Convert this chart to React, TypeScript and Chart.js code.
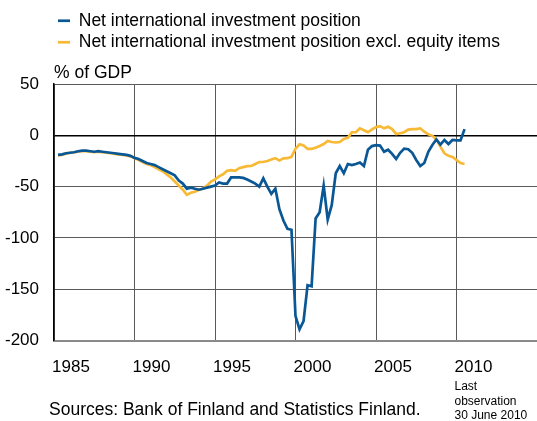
import React, { useEffect, useRef } from "react";
import { Chart, registerables } from "chart.js";

Chart.register(...registerables);

// Quarterly observations, first quarter of 1985 to second quarter of 2010
const START_YEAR = 1985;
const SERIES_NAMES = [
  "Net international investment position",
  "Net international investment position excl. equity items",
];
const NIIP: number[] = [
  -19, -18.5, -17.5, -17, -16.5, -15.5, -15, -15, -15.5, -16, -15.5, -16, -16.5, -17, -17.5, -18, -18.5, -19, -20, -22,
  -23, -25, -27, -28, -29, -31, -33, -35, -37, -39, -44, -47, -52, -51, -52, -53, -52, -51, -50, -49,
  -46, -47, -47, -41, -41, -41, -41.5, -43, -45, -47, -50, -42, -50, -57, -52, -72, -83, -91, -92, -176,
  -189, -181, -146, -147, -81, -75, -49, -82, -68, -37, -30, -37, -28, -29, -28, -26.5, -30, -14, -10.5, -9.5,
  -10, -16, -14, -18, -23, -17, -13, -13.5, -17, -24, -30, -27, -16, -9.5, -4, -9, -4.5, -8.5, -4.5, -5,
  -5, 6,
];
const NIIP_EXCL_EQUITY: number[] = [
  -19.5, -19, -18, -17, -16.5, -16, -15.5, -15.5, -16, -16.5, -16, -16.5, -17, -17.5, -18, -18.5, -19, -19.5, -20.5, -22,
  -24, -26, -28, -29, -31, -33, -35, -38, -41, -45, -49, -53, -58, -56, -55, -53, -52, -49, -45, -43,
  -40, -38, -34.6, -34, -34.6, -32, -31, -30, -29.8, -28, -26, -26, -25, -23.5, -22.3, -24.6, -22.5, -22.3, -21, -13,
  -8.8, -10, -13.3, -13.3, -12, -10.4, -8.5, -5.5, -6.5, -7, -6.5, -3.5, -2.5, 3, 3, 6.8, 5, 3, 5.8, 8,
  9, 6.8, 8.3, 6, 1.3, 2, 3, 5.5, 6, 6, 6.8, 3.5, 1, -0.5, -4, -11, -17.5, -20, -21, -24,
  -27, -28,
];
const X_MIN = 1985;
const X_MAX = 2015;
const X_STEP = 5;
const Y_MIN = -200;
const Y_MAX = 50;
const Y_STEP = 50;
const Y_UNIT = "% of GDP";
const SOURCE_TEXT = "Sources: Bank of Finland and Statistics Finland.";
const NOTE_LINES = ["Last", "observation", "30 June 2010"];

const BLUE = "#0a5796";
const YELLOW = "#f8b935";
const FONT = "Arial, 'Liberation Sans', sans-serif";

function quarterTimes(n: number): number[] {
  const out: number[] = [];
  for (let i = 0; i < n; i++) out.push(START_YEAR + 0.25 * (i + 1));
  return out;
}

const footerPlugin = {
  id: "footerText",
  afterDraw(chart: any) {
    const ctx = chart.ctx;
    ctx.save();
    ctx.fillStyle = "#000";
    ctx.textBaseline = "middle";
    ctx.textAlign = "left";
    ctx.font = `17.5px ${FONT}`;
    ctx.fillText(SOURCE_TEXT, 49, 410);
    const xs = chart.scales.x;
    const noteX = xs.getPixelForValue(2010) - 2;
    ctx.font = `12px ${FONT}`;
    NOTE_LINES.forEach((t, i) => ctx.fillText(t, noteX, 387 + i * 14.5));
    ctx.restore();
  },
};

export default function App() {
  const ref = useRef<HTMLCanvasElement | null>(null);
  useEffect(() => {
    document.body.style.margin = "0";
    const times = quarterTimes(NIIP.length);
    const chart = new Chart(ref.current!, {
      type: "line",
      data: {
        datasets: [
          {
            label: SERIES_NAMES[0],
            data: times.map((t, i) => ({ x: t, y: NIIP[i] })),
            borderColor: BLUE,
            backgroundColor: BLUE,
            borderWidth: 2.7,
            pointRadius: 0,
            tension: 0,
          },
          {
            label: SERIES_NAMES[1],
            data: times.map((t, i) => ({ x: t, y: NIIP_EXCL_EQUITY[i] })),
            borderColor: YELLOW,
            backgroundColor: YELLOW,
            borderWidth: 2.7,
            pointRadius: 0,
            tension: 0,
          },
        ],
      },
      options: {
        animation: false,
        responsive: false,
        layout: { padding: { top: 8, left: 0, right: 0, bottom: 26 } },
        plugins: {
          legend: {
            position: "top",
            align: "start",
            fullSize: false,
            labels: {
              usePointStyle: true,
              pointStyle: "line",
              pointStyleWidth: 12,
              padding: 4,
              color: "#000",
              font: { family: FONT, size: 17.5 },
            },
          },
          title: {
            display: true,
            text: Y_UNIT,
            align: "start",
            position: "top",
            fullSize: false,
            weight: 500,
            color: "#000",
            font: { family: FONT, size: 17.5, weight: "normal" },
            padding: { top: 2, bottom: 0 },
          } as any,
          tooltip: { enabled: false },
        },
        scales: {
          x: {
            type: "linear",
            min: X_MIN,
            max: X_MAX,
            border: { color: "#8a8a8a", width: 2 },
            grid: {
              drawTicks: false,
              color: (c: any) => (c.tick && c.tick.value === X_MAX ? "rgba(0,0,0,0)" : "#5a5a5a"),
              lineWidth: 1,
            },
            ticks: {
              stepSize: X_STEP,
              padding: 17,
              labelOffset: 17,
              color: "#000",
              font: { family: FONT, size: 17 },
              maxRotation: 0,
              callback: (v: any) => (Number(v) === X_MAX ? "" : String(v)),
            },
            afterFit: (scale: any) => {
              scale.paddingLeft = 0;
              scale.paddingRight = 0;
            },
          },
          y: {
            min: Y_MIN,
            max: Y_MAX,
            border: { color: "#000", width: 1.5 },
            grid: {
              drawTicks: false,
              color: (c: any) => (c.tick && c.tick.value === 0 ? "#000" : "#5a5a5a"),
              lineWidth: (c: any) => (c.tick && c.tick.value === 0 ? 1.5 : 1),
            },
            ticks: {
              stepSize: Y_STEP,
              padding: 15,
              color: "#000",
              font: { family: FONT, size: 17 },
              callback: (v: any) => String(v),
            },
            afterFit: (scale: any) => {
              scale.width = 54;
            },
          },
        },
      },
      plugins: [footerPlugin],
    });
    return () => chart.destroy();
  }, []);
  return (
    <div style={{ width: 537, height: 421 }}>
      <canvas ref={ref} width={537} height={421} style={{ display: "block" }} />
    </div>
  );
}
